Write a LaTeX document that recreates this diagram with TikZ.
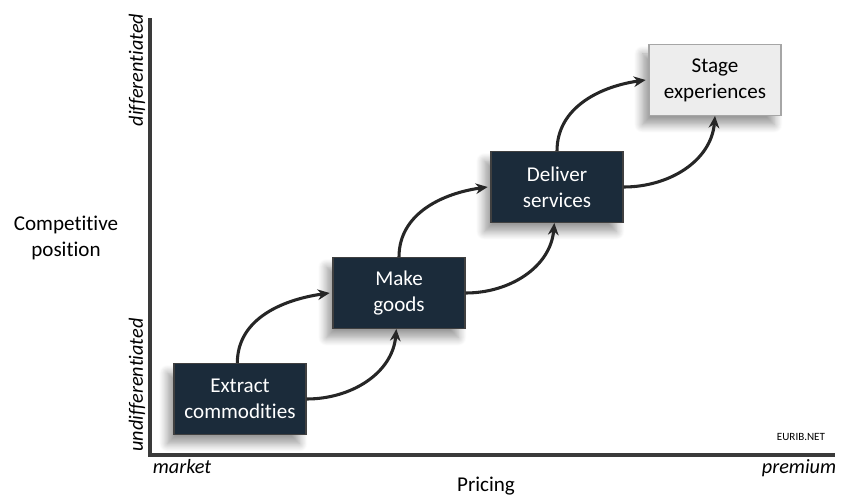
\documentclass[tikz,border=0pt]{standalone}
\usepackage{fontspec}
\setmainfont[Ligatures=NoCommon]{Carlito}
\usetikzlibrary{arrows.meta,shadows.blur}
\definecolor{navy}{HTML}{1B2B3A}
\definecolor{arr}{HTML}{262626}
\definecolor{axisc}{HTML}{3A3A3A}
\tikzset{
  dark/.style={draw=black!75, line width=1pt, fill=navy, text=white, minimum width=99pt, minimum height=53pt, align=center, font=\fontsize{15.8}{19.5}\selectfont, inner sep=0pt,
    blur shadow={shadow xshift=-5pt, shadow yshift=-7pt, shadow blur steps=10, shadow blur radius=6pt, shadow opacity=40}},
  light/.style={dark, fill=black!7, draw=black!35, text=black},
  conn/.style={draw=arr, line width=2.3pt, -{Stealth[length=9pt,width=8pt]}},
  lab/.style={font=\fontsize{15.8}{19.5}\selectfont, align=center},
  ilab/.style={font=\fontsize{15.2}{18}\selectfont\itshape},
}
\begin{document}
\begin{tikzpicture}[x=0.75pt,y=-0.75pt]
\useasboundingbox (0,0) rectangle (852,502);
% axes
\draw[axisc, line width=3pt, line cap=rect] (150,20) -- (150,455) -- (833,455);
% nodes
\node[dark] (ext) at (240,399) {Extract\\commodities};
\node[dark] (make) at (399,293) {Make\\goods};
\node[dark] (del) at (557,187) {Deliver\\services};
\node[light] (stage) at (715,80) {Stage\\experiences};
% connectors
\draw[conn] ([xshift=-2pt]ext.north) to[out=90,in=188] ([xshift=-2pt]make.west);
\draw[conn] (ext.east) to[out=0,in=-95] ([xshift=-2pt]make.south);
\draw[conn] (make.north) to[out=90,in=188] ([xshift=-2pt]del.west);
\draw[conn] (make.east) to[out=0,in=-95] ([xshift=-2pt]del.south);
\draw[conn] (del.north) to[out=90,in=188] ([xshift=-2pt]stage.west);
\draw[conn] (del.east) to[out=0,in=-95] (stage.south);
% labels
\node[lab] (cp) at (66,238) {Competitive\\position};
\node[ilab, rotate=90] (diff) at (137,70) {differentiated};
\node[ilab, rotate=90] (undiff) at (137,385) {undifferentiated};
\node[ilab] (mkt) at (182,467) {market};
\node[ilab] (prem) at (799,468) {premium};
\node[lab] (pr) at (486,486) {Pricing};
\node[font=\fontsize{8.3}{10}\selectfont] (eu) at (801,437) {EURIB.NET};
\end{tikzpicture}
\end{document}
